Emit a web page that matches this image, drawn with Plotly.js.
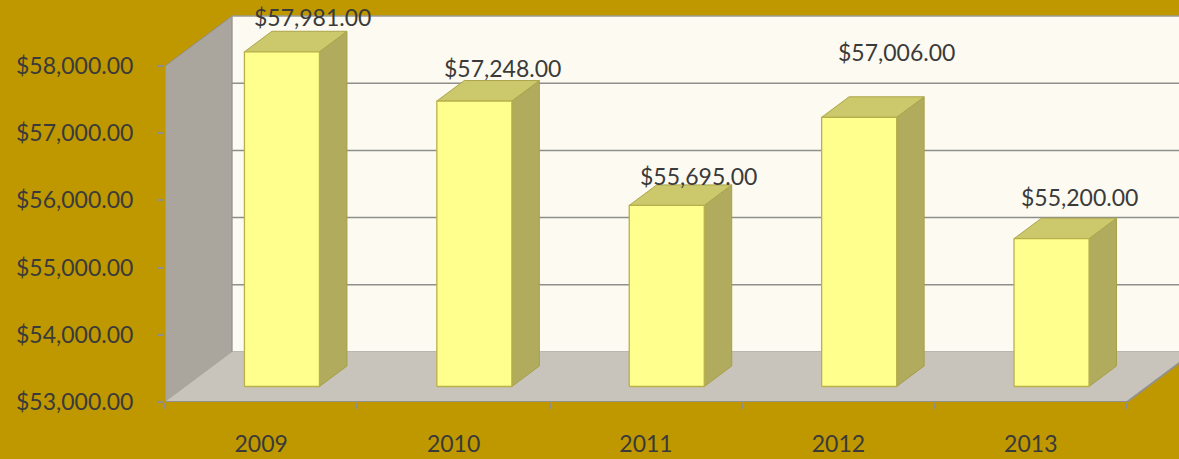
<!DOCTYPE html>
<html>
<head>
<meta charset="utf-8">
<script src="https://cdn.plot.ly/plotly-3.0.1.min.js"></script>
<style>html,body{margin:0;padding:0;background:#bf9800;}#chart{width:1179px;height:459px;}</style>
</head>
<body>
<div id="chart"></div>
<script>
// ---- data ----
const years = ['2009', '2010', '2011', '2012', '2013'];
const values = [57981, 57248, 55695, 57006, 55200];
const yTicks = [53000, 54000, 55000, 56000, 57000, 58000];

// ---- 3D projection settings (styles / geometry, not data) ----
const BASE = yTicks[0], TOP = yTicks[yTicks.length - 1];
const N = years.length;
const D = 0.348;     // full depth offset in category units
const DY = 744;      // full depth offset in value units
const FD = 0.31;     // bar front depth fraction
const BD = 0.72;     // bar back depth fraction
const HW = 0.195;    // bar half-width
const labelDX = [3, 1, 4, 10, 0];     // label pixel nudges
const labelDY = [14, 12.5, 9, 45, 21];

const FONT = 'Lato, "Noto Sans", sans-serif';
const GOLD = '#bf9800';
const TXT = '#3a3a3a';

const traces = [];
function poly(x, y, fill, lineColor, lineWidth) {
  return {
    type: 'scatter', mode: 'lines', hoverinfo: 'skip', showlegend: false,
    x: x, y: y, fill: 'toself', fillcolor: fill,
    line: {color: lineColor, width: lineWidth}
  };
}

// left wall
traces.push(poly([0, 0, D, D, 0], [BASE, TOP, TOP + DY, BASE + DY, BASE], '#aaa69e', '#918e87', 1));
// back wall
traces.push(poly([D, N + D, N + D, D, D], [BASE + DY, BASE + DY, TOP + DY, TOP + DY, BASE + DY], '#fdfbf1', '#9a9a96', 1.5));
// back wall gridlines
const gx = [], gy = [];
yTicks.slice(1, -1).forEach(t => { gx.push(D, N + D, null); gy.push(t + DY, t + DY, null); });
traces.push({
  type: 'scatter', mode: 'lines', hoverinfo: 'skip', showlegend: false,
  x: gx, y: gy, line: {color: '#8e8e8a', width: 1.5}
});
// floor
traces.push(poly([0, N, N + D, D, 0], [BASE, BASE, BASE + DY, BASE + DY, BASE], '#c8c4bc', '#c8c4bc', 0.5));
// floor front edge
traces.push({
  type: 'scatter', mode: 'lines', hoverinfo: 'skip', showlegend: false,
  x: [0, N, N + D], y: [BASE, BASE, BASE + DY], line: {color: '#94918b', width: 2}
});

// bars: front, side, top faces
const fx = [], fy = [], sx = [], sy = [], tx = [], ty = [];
const dd = (BD - FD) * D, ddy = (BD - FD) * DY;
values.forEach((v, i) => {
  const xl = i + 0.5 - HW + FD * D, xr = i + 0.5 + HW + FD * D;
  const b0 = BASE + FD * DY, t0 = v + FD * DY;
  fx.push(xl, xr, xr, xl, xl, null);
  fy.push(b0, b0, t0, t0, b0, null);
  sx.push(xr, xr, xr + dd, xr + dd, xr, null);
  sy.push(b0, t0, t0 + ddy, b0 + ddy, b0, null);
  tx.push(xl, xr, xr + dd, xl + dd, xl, null);
  ty.push(t0, t0, t0 + ddy, t0 + ddy, t0, null);
});
traces.push(poly(sx, sy, '#b1ac5d', '#a59f48', 1));
traces.push(poly(tx, ty, '#ccc86c', '#aba54c', 1));
traces.push(poly(fx, fy, '#ffff8e', '#b9b04a', 1.3));

// invisible trace so the boundary-tick axis (x2) is drawn
traces.push({
  type: 'scatter', mode: 'markers', xaxis: 'x2', hoverinfo: 'skip', showlegend: false,
  x: [0], y: [BASE], marker: {opacity: 0, size: 1}
});

// value labels
const annotations = values.map((v, i) => ({
  x: i + 0.5 + BD * D, y: v + BD * DY,
  xref: 'x', yref: 'y', showarrow: false,
  text: '$' + v.toLocaleString('en-US', {minimumFractionDigits: 2, maximumFractionDigits: 2}),
  xanchor: 'center', yanchor: 'middle',
  xshift: labelDX[i], yshift: labelDY[i],
  font: {family: FONT, size: 23, color: TXT}
}));

const XR = [0, (1179 - 165) / 192.4];
const layout = {
  width: 1179, height: 459,
  margin: {l: 165, r: 0, t: 0, b: 57, pad: 0},
  paper_bgcolor: GOLD, plot_bgcolor: 'rgba(0,0,0,0)',
  font: {family: FONT, size: 23, color: TXT},
  showlegend: false,
  xaxis: {
    type: 'linear', range: XR, fixedrange: true,
    tickvals: years.map((y, i) => i + 0.5), ticktext: years,
    ticks: '', showgrid: false, zeroline: false, showline: false,
    ticklabelstandoff: 26,
    tickfont: {family: FONT, size: 23, color: TXT}
  },
  xaxis2: {
    type: 'linear', range: XR, overlaying: 'x', anchor: 'y', fixedrange: true,
    tickvals: years.map((y, i) => i).concat([N]),
    showticklabels: false, ticks: 'outside', ticklen: 6, tickwidth: 2, tickcolor: '#8e8e8e',
    showgrid: false, zeroline: false, showline: false
  },
  yaxis: {
    type: 'linear', range: [BASE, BASE + 402 / 67.2 * 1000], fixedrange: true,
    tickvals: yTicks, tickformat: '$,.2f',
    ticks: 'outside', ticklen: 6, tickwidth: 2, tickcolor: '#8e8e8e',
    ticklabelstandoff: 20,
    showgrid: false, zeroline: false, showline: false,
    tickfont: {family: FONT, size: 23, color: TXT}
  },
  annotations: annotations
};

Plotly.newPlot('chart', traces, layout, {displayModeBar: false, staticPlot: true});
</script>
</body>
</html>
